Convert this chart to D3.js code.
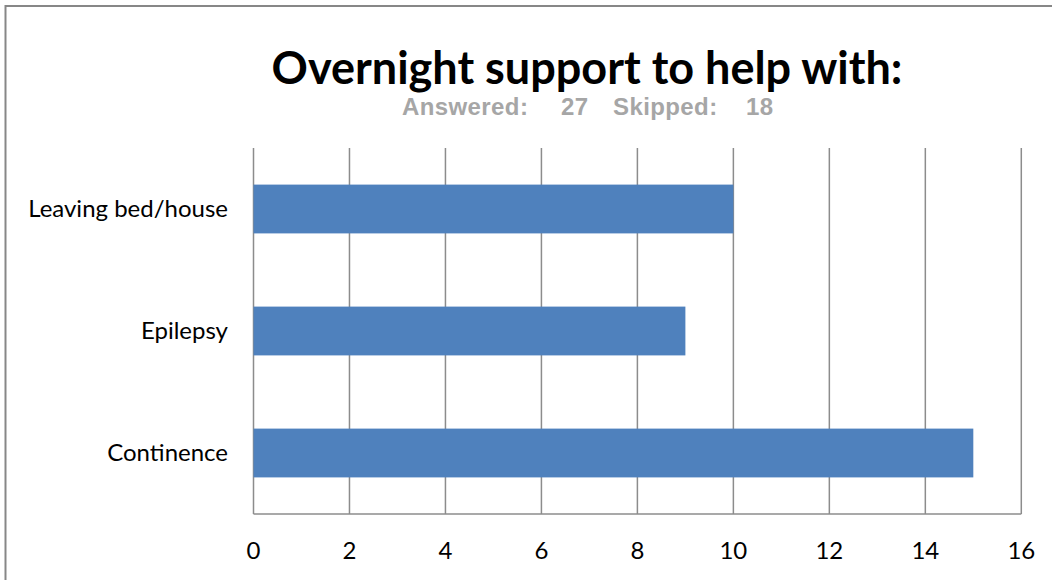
<!DOCTYPE html>
<html>
<head>
<meta charset="utf-8">
<script src="https://cdnjs.cloudflare.com/ajax/libs/d3/7.8.5/d3.min.js"></script>
<style>
body { margin: 0; background: #fff; }
</style>
</head>
<body>
<script>
var w = 1052;
var h = 580;

var categories = ["Leaving bed/house", "Epilepsy", "Continence"];
var values = [10, 9, 15];
var ticks = [0, 2, 4, 6, 8, 10, 12, 14, 16];
var subtitleParts = ["Answered:", "27", "Skipped:", "18"];
var subtitleX = [402, 561, 613, 746];

var svg = d3.select("body")
    .append("svg")
    .attr("width", w)
    .attr("height", h);

// outer frame
svg.append("rect")
    .attr("x", 5.5)
    .attr("y", 6)
    .attr("width", w + 10)
    .attr("height", h + 10)
    .attr("fill", "none")
    .attr("stroke", "#878787")
    .attr("stroke-width", 2);

var pLeft = 253.5, pRight = 1021.3, pTop = 148, pBottom = 514;

var x = d3.scaleLinear().domain([0, 16]).range([pLeft, pRight]);
var y = d3.scaleBand().domain(categories).range([pTop, pBottom]).paddingInner(0.6).paddingOuter(0.3);

// title
svg.append("text")
    .attr("x", 587)
    .attr("y", 84)
    .attr("text-anchor", "middle")
    .attr("font-family", "Lato, 'Open Sans', sans-serif")
    .attr("font-weight", "bold")
    .attr("font-size", "45px")
    .attr("fill", "#000")
    .text("Overnight support to help with:");

svg.selectAll("text.sub")
    .data(subtitleParts)
    .enter()
    .append("text")
    .attr("class", "sub")
    .attr("x", function(d, i) { return subtitleX[i]; })
    .attr("y", 114.5)
    .attr("font-family", "'Liberation Sans', Arial, sans-serif")
    .attr("font-weight", "bold")
    .attr("font-size", "24px")
    .attr("letter-spacing", "0.4px")
    .attr("fill", "#a6a6a6")
    .text(function(d) { return d; });

// gridlines
svg.selectAll("line.grid")
    .data(ticks)
    .enter()
    .append("line")
    .attr("class", "grid")
    .attr("x1", function(d) { return x(d); })
    .attr("x2", function(d) { return x(d); })
    .attr("y1", pTop)
    .attr("y2", pBottom)
    .attr("stroke", "#8c8c8c")
    .attr("stroke-width", 1.5);

// baseline
svg.append("line")
    .attr("x1", x(0))
    .attr("x2", x(16))
    .attr("y1", pBottom)
    .attr("y2", pBottom)
    .attr("stroke", "#8c8c8c")
    .attr("stroke-width", 1.5);

// bars
svg.selectAll("rect.bar")
    .data(values)
    .enter()
    .append("rect")
    .attr("class", "bar")
    .attr("x", x(0))
    .attr("y", function(d, i) { return y(categories[i]); })
    .attr("width", function(d) { return x(d) - x(0); })
    .attr("height", y.bandwidth())
    .attr("fill", "#4f81bd");

// category labels
svg.selectAll("text.cat")
    .data(categories)
    .enter()
    .append("text")
    .attr("class", "cat")
    .attr("x", 228)
    .attr("y", function(d) { return y(d) + y.bandwidth() / 2; })
    .attr("dy", "0.35em")
    .attr("text-anchor", "end")
    .attr("font-family", "Lato, 'Open Sans', sans-serif")
    .attr("font-size", "24px")
    .attr("fill", "#000")
    .text(function(d) { return d; });

// tick labels
svg.selectAll("text.tick")
    .data(ticks)
    .enter()
    .append("text")
    .attr("class", "tick")
    .attr("x", function(d) { return x(d); })
    .attr("y", 551)
    .attr("dy", "0.35em")
    .attr("text-anchor", "middle")
    .attr("font-family", "Lato, 'Open Sans', sans-serif")
    .attr("font-size", "24px")
    .attr("fill", "#000")
    .text(function(d) { return d; });
</script>
</body>
</html>
